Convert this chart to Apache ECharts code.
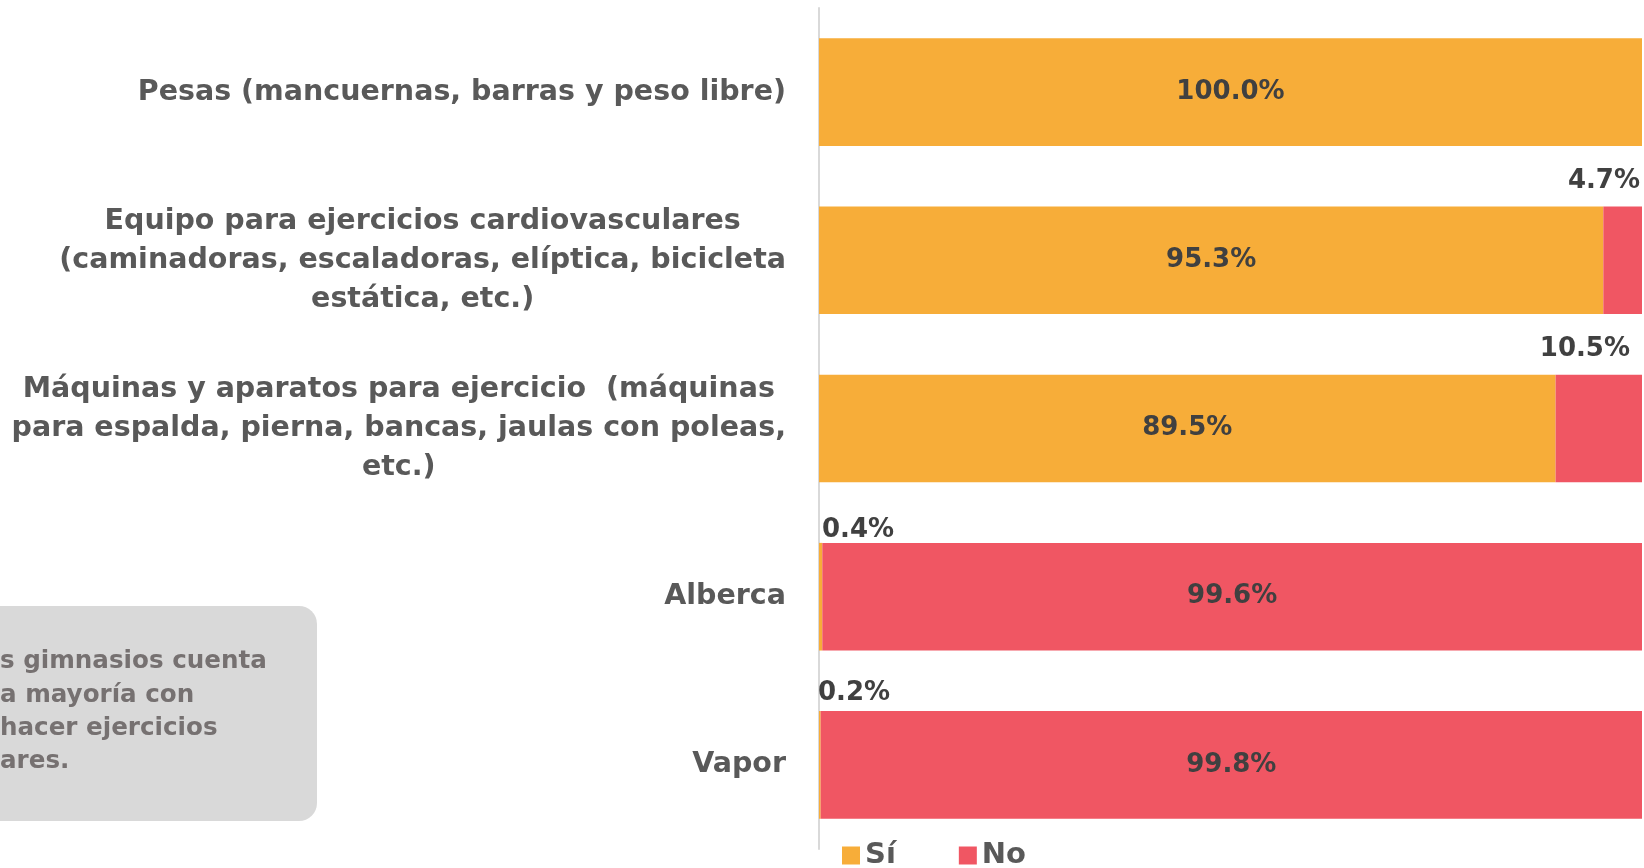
<!DOCTYPE html>
<html>
<head>
<meta charset="utf-8">
<title>Equipamiento de gimnasios</title>
<script src="https://cdn.jsdelivr.net/npm/echarts@6/dist/echarts.min.js"></script>
<style>
  html, body { margin: 0; padding: 0; background: #fff; }
  #chart { width: 1644px; height: 868px; }
</style>
</head>
<body>
<div id="chart"></div>
<script>
// categorías (de arriba hacia abajo)
const categories = [
  'Pesas (mancuernas, barras y peso libre)',
  'Equipo para ejercicios cardiovasculares\n(caminadoras, escaladoras, elíptica, bicicleta\nestática, etc.)',
  'Máquinas y aparatos para ejercicio  (máquinas\npara espalda, pierna, bancas, jaulas con poleas,\netc.)',
  'Alberca',
  'Vapor'
]
const siValues = [100.0, 95.3, 89.5, 0.4, 0.2]
const noValues = [0.0, 4.7, 10.5, 99.6, 99.8]
const legendNames = ['Sí', 'No']
const noteLines = ['s gimnasios cuenta', 'a mayoría con', 'hacer ejercicios', 'ares.']

const ORANGE = '#F7AD39'
const RED = '#F05663'
const FONT = '"DejaVu Sans", sans-serif'

// etiquetas de valor: dentro si el segmento es grande, arriba si es pequeño
const valueLabel = (v, series) => {
  if (v <= 0) return { show: false }
  const base = {
    show: true,
    formatter: v.toFixed(1) + '%',
    fontFamily: FONT,
    fontWeight: 'bold',
    fontSize: 26,
    color: '#404040'
  }
  if (v >= 50) return { ...base, position: 'inside' }
  if (series === 'si') {
    return { ...base, position: [v > 0.3 ? 3 : -1, v > 0.3 ? 0 : -5], align: 'left', verticalAlign: 'bottom' }
  }
  return { ...base, position: ['100%', -12], align: 'right', verticalAlign: 'bottom',
    offset: [v > 8 ? -12 : -2, 0] }
}

const chart = echarts.init(document.getElementById('chart'))

chart.setOption({
  backgroundColor: '#ffffff',
  animation: false,
  grid: { left: 819, right: 2, top: 8, bottom: 19, containLabel: false },
  legend: {
    data: legendNames,
    left: 837,
    top: 836,
    icon: 'rect',
    itemWidth: 18,
    itemHeight: 18,
    itemGap: 63,
    textStyle: { fontFamily: FONT, fontWeight: 'bold', fontSize: 29, color: '#595959' }
  },
  xAxis: {
    type: 'value',
    min: 0,
    max: 100,
    show: false
  },
  yAxis: {
    type: 'category',
    inverse: true,
    data: categories,
    axisTick: { show: false },
    axisLine: { show: true, lineStyle: { color: '#D9D9D9', width: 2 } },
    axisLabel: {
      margin: 33,
      align: 'right',
      formatter: (val) => val.split('\n').map(l => '{c|' + l + '}').join('\n'),
      rich: {
        c: {
          align: 'center',
          fontFamily: FONT,
          fontWeight: 'bold',
          fontSize: 28.5,
          lineHeight: 39,
          color: '#595959'
        }
      }
    }
  },
  series: [
    {
      name: legendNames[0],
      type: 'bar',
      stack: 'total',
      barCategoryGap: '36%',
      itemStyle: { color: ORANGE },
      data: siValues.map(v => ({ value: v, label: valueLabel(v, 'si') }))
    },
    {
      name: legendNames[1],
      type: 'bar',
      stack: 'total',
      barCategoryGap: '36%',
      itemStyle: { color: RED },
      data: noValues.map(v => ({ value: v, label: valueLabel(v, 'no') }))
    }
  ],
  graphic: [
    {
      type: 'rect',
      shape: { x: -40, y: 606, width: 357, height: 215, r: 18 },
      style: { fill: '#D9D9D9' },
      silent: true
    },
    ...noteLines.map((t, i) => ({
      type: 'text',
      x: 0,
      y: 662 + i * 33.3,
      style: {
        text: t,
        fill: '#767171',
        font: 'bold 24.6px "DejaVu Sans", sans-serif',
        textVerticalAlign: 'middle'
      },
      silent: true
    }))
  ]
})

window.addEventListener('resize', () => chart.resize())
</script>
</body>
</html>
